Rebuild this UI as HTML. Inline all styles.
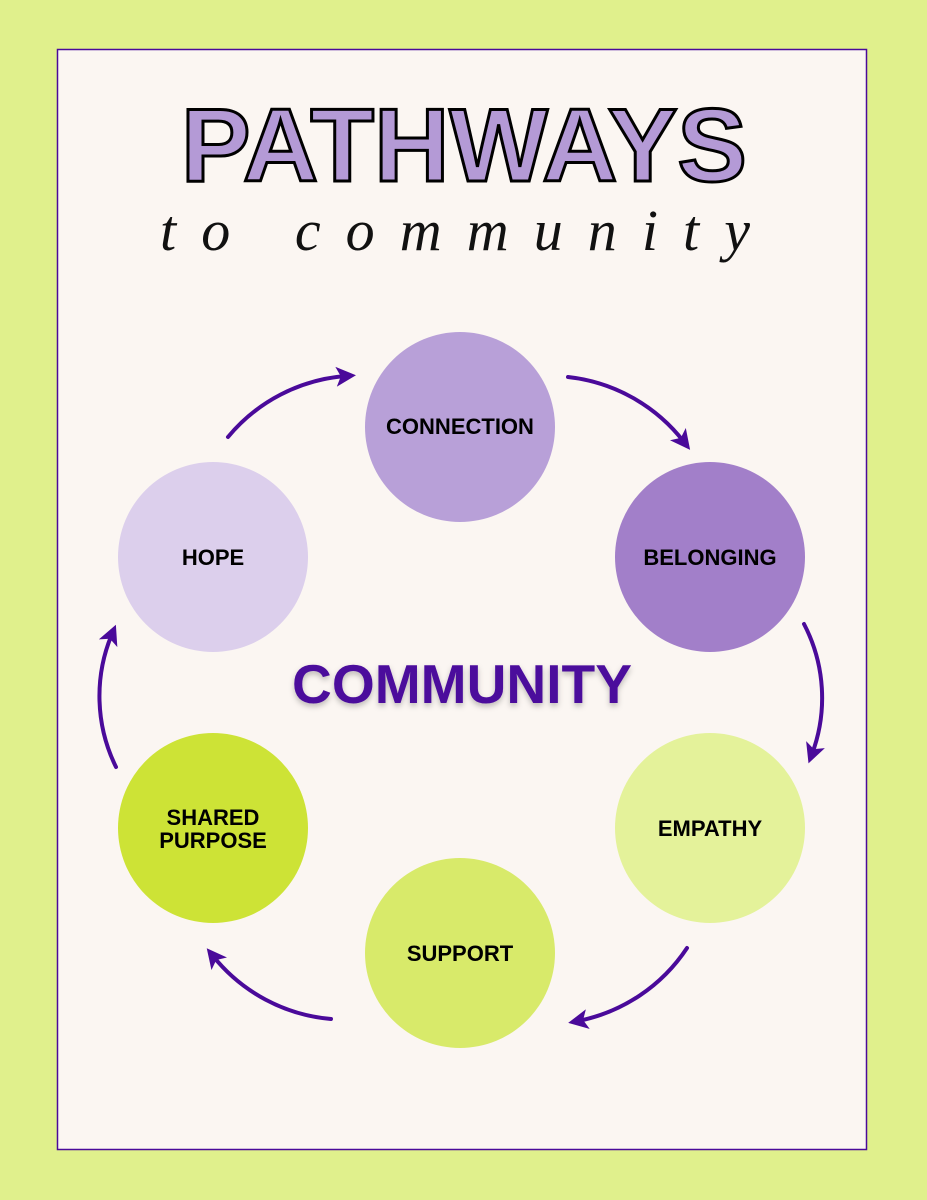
<!DOCTYPE html>
<html><head><style>
html,body{margin:0;padding:0;background:#e0f08c;}
svg{display:block}
</style></head><body>
<svg width="927" height="1200" viewBox="0 0 927 1200" xmlns="http://www.w3.org/2000/svg">
<defs>
<marker id="ah" markerWidth="5" markerHeight="5" refX="2.5" refY="2.5" orient="auto" markerUnits="strokeWidth">
<path d="M0,0 L5,2.5 L0,5 L1.2,2.5 Z" fill="#4a0a9a"/>
</marker>
<filter id="sh" x="-10%" y="-30%" width="120%" height="160%"><feDropShadow dx="0" dy="3" stdDeviation="3" flood-color="#000" flood-opacity="0.25"/></filter>
</defs>
<rect x="0" y="0" width="927" height="1200" fill="#e0f08c"/>
<rect x="57.5" y="49.5" width="809" height="1100" fill="#fbf6f2" stroke="#4a0a9a" stroke-width="1.5"/>
<text x="464" y="181" text-anchor="middle" font-family="Liberation Sans, sans-serif" font-weight="bold" font-size="104" fill="#b49ad6" stroke="#000" stroke-width="3" textLength="566" lengthAdjust="spacingAndGlyphs">PATHWAYS</text>
<text x="455" y="250" text-anchor="middle" font-family="Liberation Serif, serif" font-style="italic" font-size="58" fill="#111" textLength="590" lengthAdjust="spacing">to community</text>
<g fill="none" stroke="#4a0a9a" stroke-width="4" stroke-linecap="round">
<path d="M228,437 A170,170 0 0 1 346,376" marker-end="url(#ah)"/>
<path d="M568,377 A170,170 0 0 1 684,442" marker-end="url(#ah)"/>
<path d="M804,624 A160,160 0 0 1 812,754" marker-end="url(#ah)"/>
<path d="M687,948 A170,170 0 0 1 578,1021" marker-end="url(#ah)"/>
<path d="M331,1019 A170,170 0 0 1 213,956" marker-end="url(#ah)"/>
<path d="M116,767 A160,160 0 0 1 112,634" marker-end="url(#ah)"/>
</g>
<circle cx="460" cy="427" r="95" fill="#b8a0d8"/>
<circle cx="710" cy="557" r="95" fill="#a27fc9"/>
<circle cx="213" cy="557" r="95" fill="#dccfec"/>
<circle cx="710" cy="828" r="95" fill="#e4f29a"/>
<circle cx="460" cy="953" r="95" fill="#d8ea6a"/>
<circle cx="213" cy="828" r="95" fill="#cde336"/>
<g font-family="Liberation Sans, sans-serif" font-weight="bold" font-size="22" fill="#000" text-anchor="middle">
<text x="460" y="434">CONNECTION</text>
<text x="710" y="565">BELONGING</text>
<text x="213" y="565">HOPE</text>
<text x="710" y="836">EMPATHY</text>
<text x="460" y="961">SUPPORT</text>
<text x="213" y="825">SHARED</text>
<text x="213" y="848">PURPOSE</text>
</g>
<text x="462" y="703" text-anchor="middle" font-family="Liberation Sans, sans-serif" font-weight="bold" font-size="55" fill="#4b0a9c" filter="url(#sh)" textLength="340" lengthAdjust="spacingAndGlyphs">COMMUNITY</text>
</svg>
</body></html>
